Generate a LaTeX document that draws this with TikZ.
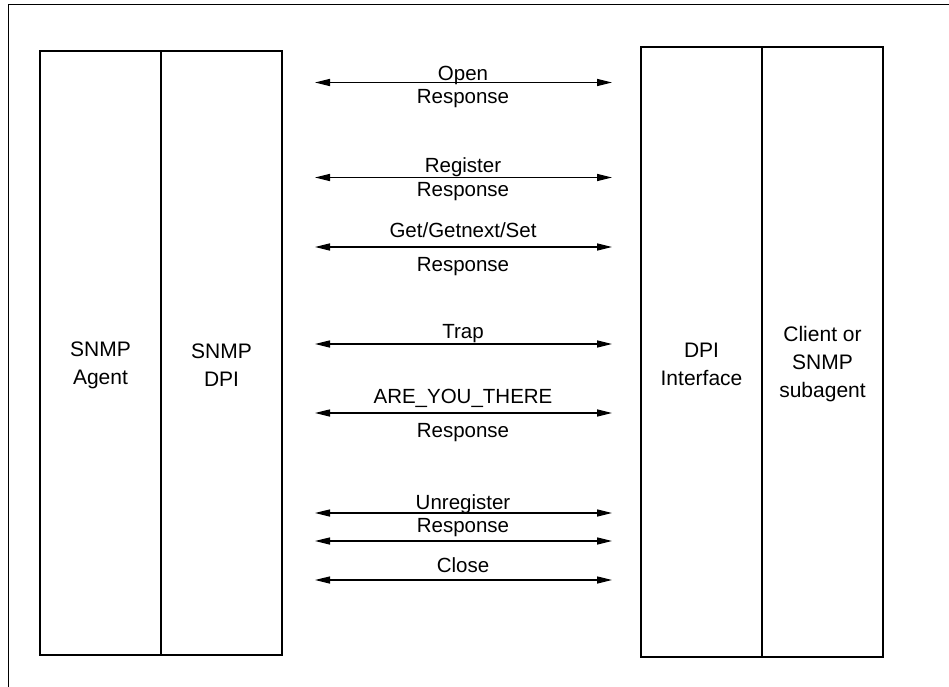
\documentclass[tikz,border=0pt]{standalone}
\usepackage{fontspec}
\setmainfont{Liberation Sans}
\usetikzlibrary{positioning, arrows.meta}

\begin{document}
\begin{tikzpicture}[x=1pt, y=-1pt, line width=1.3pt,
    font=\fontsize{20.5}{23}\selectfont,
    box/.style={draw, line width=1.5pt, outer sep=0pt, inner sep=0pt, minimum width=121pt},
    boxtext/.style={align=center, yshift=-12pt, font=\fontsize{21}{28}\selectfont},
    msg/.style={{Triangle[length=15pt,width=7pt]}-{Triangle[length=15pt,width=7pt]}},
    lbl/.style={anchor=base}]
    \useasboundingbox (0,0) rectangle (949,687);
    % frame, only top and left edge show
    \draw[line width=1pt] (8,687) -- (8,5) -- (949,5);

    \node[box, minimum height=604pt, anchor=north west] (agent) at (40,51) {};
    \node[box, minimum height=604pt, right=0pt of agent] (dpi) {};
    \node[box, minimum height=610pt, anchor=north west] (iface) at (641,47) {};
    \node[box, minimum height=610pt, right=0pt of iface] (client) {};

    \node[boxtext] (agentlbl) at (agent) {SNMP\\Agent};
    \node[boxtext] (dpilbl) at (dpi) {SNMP\\DPI};
    \node[boxtext] (ifacelbl) at (iface) {DPI\\Interface};
    \node[boxtext] (clientlbl) at (client) {Client or\\SNMP\\subagent};

    \foreach \n/\y in {open/82.5, reg/177.5, get/247, trap/344, ayt/413, unreg/513, resp/541, close/580} {
      \coordinate (\n-l) at (315,\y);
      \coordinate (\n-r) at (612,\y);
      \draw[msg] (\n-l) -- (\n-r);
    }

    \node[lbl] (openlbl) at (463,81) {Open};
    \node[lbl] (openresp) at (463,104) {Response};
    \node[lbl] (reglbl) at (463,172) {Register};
    \node[lbl] (regresp) at (463,196) {Response};
    \node[lbl] (getlbl) at (463,237) {Get/Getnext/Set};
    \node[lbl] (getresp) at (463,271) {Response};
    \node[lbl] (traplbl) at (463,338) {Trap};
    \node[lbl] (aytlbl) at (463,403) {ARE\_YOU\_THERE};
    \node[lbl] (aytresp) at (463,437) {Response};
    \node[lbl] (unreglbl) at (463,509) {Unregister};
    \node[lbl] (resplbl) at (463,532) {Response};
    \node[lbl] (closelbl) at (463,572) {Close};
  \end{tikzpicture}
\end{document}
